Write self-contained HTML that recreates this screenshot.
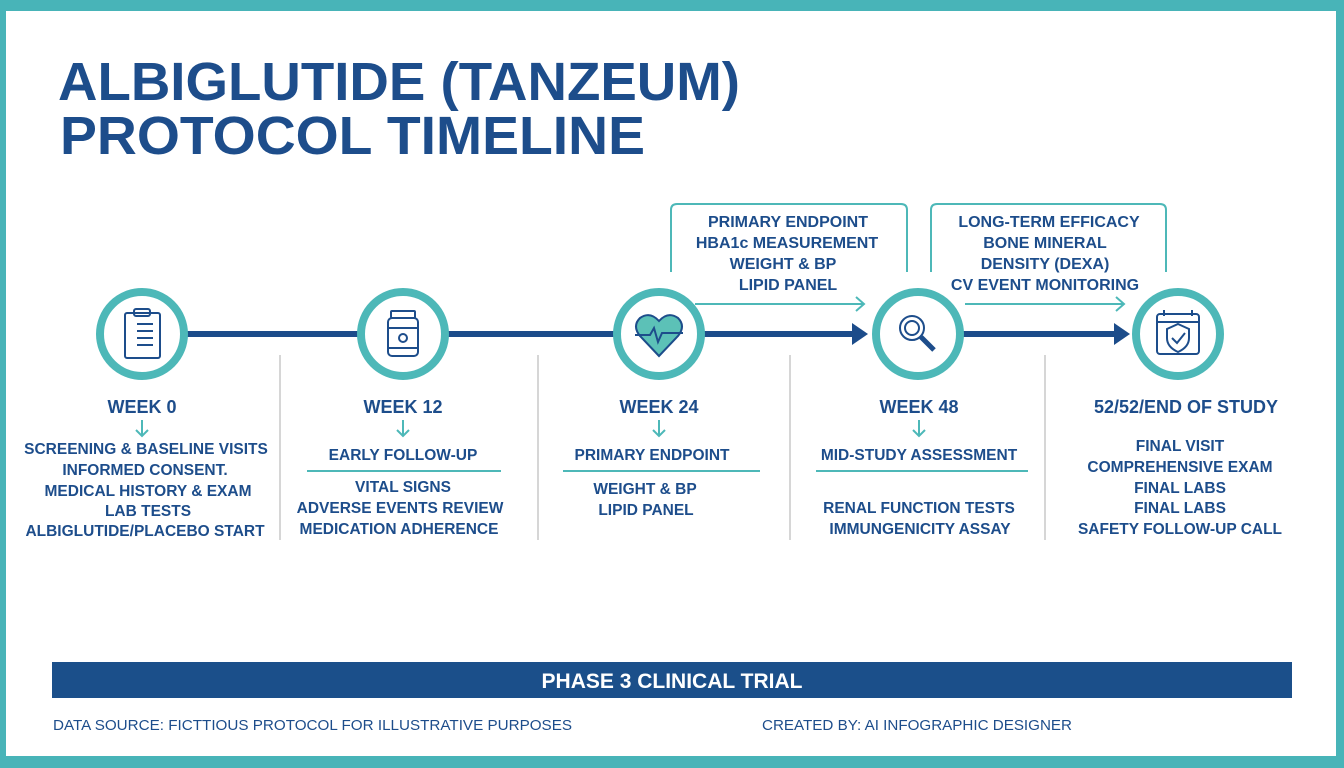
<!DOCTYPE html>
<html><head><meta charset="utf-8"><style>
html,body{margin:0;padding:0;background:#fff}
svg{display:block}
text{font-family:"Liberation Sans",sans-serif;font-weight:bold;fill:#1d4d8b}
</style></head><body>
<svg width="1344" height="768" viewBox="0 0 1344 768" xmlns="http://www.w3.org/2000/svg">
<rect x="0" y="0" width="1344" height="768" fill="#48b4b8"/>
<rect x="6" y="11" width="1330" height="745" fill="#fff"/>

<text x="58" y="100" font-size="54" textLength="682" lengthAdjust="spacingAndGlyphs">ALBIGLUTIDE (TANZEUM)</text>
<text x="60" y="154" font-size="54" textLength="585" lengthAdjust="spacingAndGlyphs">PROTOCOL TIMELINE</text>

<!-- main line -->
<line x1="185" y1="334" x2="860" y2="334" stroke="#1c4c8a" stroke-width="6"/>
<polygon points="852,323 868,334 852,345" fill="#1c4c8a"/>
<line x1="960" y1="334" x2="1120" y2="334" stroke="#1c4c8a" stroke-width="6"/>
<polygon points="1114,323 1130,334 1114,345" fill="#1c4c8a"/>

<!-- brackets -->
<g fill="none" stroke="#4db8b8" stroke-width="2">
<path d="M671,272 V210 Q671,204 677,204 H901 Q907,204 907,210 V272"/>
<path d="M931,272 V210 Q931,204 937,204 H1160 Q1166,204 1166,210 V272"/>
<line x1="695" y1="304" x2="864" y2="304"/>
<polyline points="856,297 864,304 856,311"/>
<line x1="965" y1="304" x2="1124" y2="304"/>
<polyline points="1116,297 1124,304 1116,311"/>
</g>
<g font-size="16" text-anchor="middle">
<text x="788" y="227">PRIMARY ENDPOINT</text>
<text x="787" y="248">HBA1c MEASUREMENT</text>
<text x="783" y="269">WEIGHT &amp; BP</text>
<text x="788" y="290">LIPID PANEL</text>
<text x="1049" y="227">LONG-TERM EFFICACY</text>
<text x="1045" y="248">BONE MINERAL</text>
<text x="1045" y="269">DENSITY (DEXA)</text>
<text x="1045" y="290">CV EVENT MONITORING</text>
</g>

<!-- circles -->
<g fill="#fff" stroke="#4db8b8" stroke-width="8">
<circle cx="142" cy="334" r="42"/>
<circle cx="403" cy="334" r="42"/>
<circle cx="659" cy="334" r="42"/>
<circle cx="918" cy="334" r="42"/>
<circle cx="1178" cy="334" r="42"/>
</g>
<!-- icons -->
<g fill="none" stroke="#1d4d8b" stroke-width="2">
<rect x="125" y="313" width="35" height="45" rx="2"/>
<rect x="134" y="309" width="16" height="7" rx="2"/>
<line x1="137" y1="324" x2="153" y2="324"/><line x1="137" y1="331" x2="153" y2="331"/>
<line x1="137" y1="338" x2="153" y2="338"/><line x1="137" y1="345" x2="153" y2="345"/>
<rect x="391" y="311" width="24" height="7" rx="1"/>
<rect x="388" y="318" width="30" height="38" rx="4"/>
<line x1="388" y1="328" x2="418" y2="328"/><line x1="388" y1="348" x2="418" y2="348"/>
<circle cx="403" cy="338" r="4"/>
<path d="M659,356 L640,336 Q632,326 640,318 Q650,311 659,321 Q668,311 678,318 Q686,326 678,336 Z" fill="#5cc1b7"/>
<polyline points="635,335 650,335 654,328 658,342 662,333 683,333"/>
<circle cx="912" cy="328" r="12"/><circle cx="912" cy="328" r="7"/>
<line x1="921" y1="337" x2="934" y2="350" stroke-width="5"/>
<rect x="1157" y="314" width="42" height="40" rx="3"/>
<line x1="1157" y1="322" x2="1199" y2="322"/>
<line x1="1164" y1="310" x2="1164" y2="316"/><line x1="1192" y1="310" x2="1192" y2="316"/>
<path d="M1178,324 L1189,329 V338 Q1189,347 1178,352 Q1167,347 1167,338 V329 Z"/>
<polyline points="1172,338 1177,343 1185,333"/>
</g>

<!-- dividers -->
<g stroke="#d6d6d6" stroke-width="2">
<line x1="280" y1="355" x2="280" y2="540"/>
<line x1="538" y1="355" x2="538" y2="540"/>
<line x1="790" y1="355" x2="790" y2="540"/>
<line x1="1045" y1="355" x2="1045" y2="540"/>
</g>

<g font-size="18" text-anchor="middle">
<text x="142" y="413">WEEK 0</text>
<text x="403" y="413">WEEK 12</text>
<text x="659" y="413">WEEK 24</text>
<text x="919" y="413">WEEK 48</text>
<text x="1186" y="413">52/52/END OF STUDY</text>
</g>
<g fill="none" stroke="#4db8b8" stroke-width="2">
<path d="M142,420 V436 M136,430 L142,436 L148,430"/>
<path d="M403,420 V436 M397,430 L403,436 L409,430"/>
<path d="M659,420 V436 M653,430 L659,436 L665,430"/>
<path d="M919,420 V436 M913,430 L919,436 L925,430"/>
<line x1="307" y1="471" x2="501" y2="471"/>
<line x1="563" y1="471" x2="760" y2="471"/>
<line x1="816" y1="471" x2="1028" y2="471"/>
</g>
<g font-size="15.5" text-anchor="middle">
<text x="146" y="454">SCREENING &amp; BASELINE VISITS</text>
<text x="145" y="475">INFORMED CONSENT.</text>
<text x="148" y="496">MEDICAL HISTORY &amp; EXAM</text>
<text x="148" y="516">LAB TESTS</text>
<text x="145" y="536">ALBIGLUTIDE/PLACEBO START</text>
<text x="403" y="460">EARLY FOLLOW-UP</text>
<text x="403" y="492">VITAL SIGNS</text>
<text x="400" y="513">ADVERSE EVENTS REVIEW</text>
<text x="399" y="534">MEDICATION ADHERENCE</text>
<text x="652" y="460">PRIMARY ENDPOINT</text>
<text x="645" y="494">WEIGHT &amp; BP</text>
<text x="646" y="515">LIPID PANEL</text>
<text x="919" y="460">MID-STUDY ASSESSMENT</text>
<text x="919" y="513">RENAL FUNCTION TESTS</text>
<text x="920" y="534">IMMUNGENICITY ASSAY</text>
<text x="1180" y="451">FINAL VISIT</text>
<text x="1180" y="472">COMPREHENSIVE EXAM</text>
<text x="1180" y="493">FINAL LABS</text>
<text x="1180" y="513">FINAL LABS</text>
<text x="1180" y="534">SAFETY FOLLOW-UP CALL</text>
</g>

<rect x="52" y="662" width="1240" height="36" fill="#1b4f8a"/>
<text x="672" y="688" font-size="21" text-anchor="middle" style="fill:#fff">PHASE 3 CLINICAL TRIAL</text>

<text x="53" y="730" font-size="15" style="font-weight:normal" textLength="519" lengthAdjust="spacingAndGlyphs">DATA SOURCE: FICTTIOUS PROTOCOL FOR ILLUSTRATIVE PURPOSES</text>
<text x="762" y="730" font-size="15" style="font-weight:normal" textLength="310" lengthAdjust="spacingAndGlyphs">CREATED BY: AI INFOGRAPHIC DESIGNER</text>
</svg>
</body></html>
